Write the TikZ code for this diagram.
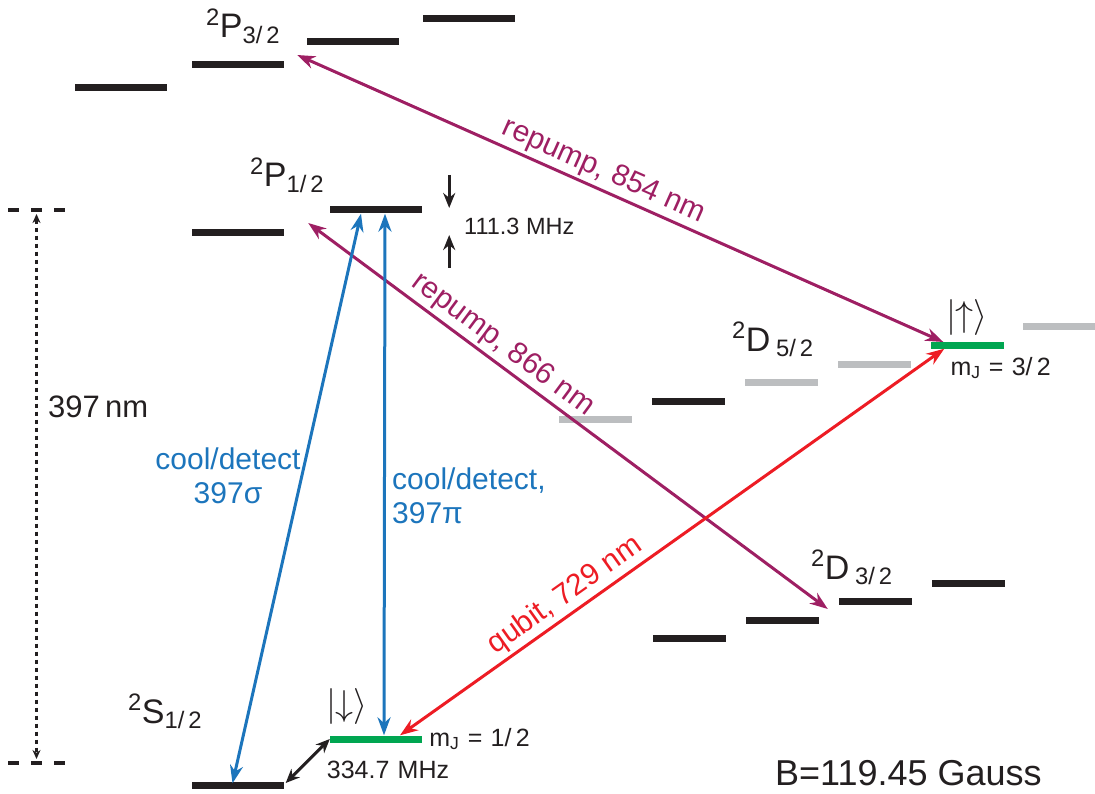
\RequirePackage{fix-cm}
\documentclass[tikz,border=0pt]{standalone}
\usepackage{fontspec}
\setmainfont{Liberation Sans}
\usetikzlibrary{arrows.meta, positioning, calc}
\definecolor{lvlBlack} {HTML}{231F20}
\definecolor{lvlGray}  {HTML}{BCBEC0}
\definecolor{lvlGreen} {HTML}{00A651}
\definecolor{beamPurple}{HTML}{9E1F63}
\definecolor{beamBlue} {HTML}{1C75BC}
\definecolor{beamRed}  {HTML}{ED1C24}
\tikzset{
  lvl/.style   = {rectangle, fill=lvlBlack, minimum width=92pt,
                  minimum height=7pt, inner sep=0pt},
  dlvl/.style  = {lvl, minimum width=73pt},
  glvl/.style  = {dlvl, fill=lvlGray},
  term/.style  = {inner sep=0pt, font=\fontsize{34}{38}\selectfont, text=lvlBlack},
  ket/.style   = {inner sep=0pt, font=\fontsize{36}{40}\selectfont, text=lvlBlack},
  note/.style  = {inner sep=0pt, font=\fontsize{25}{29}\selectfont, text=lvlBlack},
  beam/.style  = {{Stealth[length=18pt,width=13pt]}-{Stealth[length=18pt,width=13pt]},
                  line width=3pt},
  repump/.style= {beam, color=beamPurple},
  cool/.style  = {beam, color=beamBlue},
  qubit/.style = {beam, color=beamRed},
  beamlbl/.style={inner sep=3pt, font=\fontsize{30}{34}\selectfont},
  tick/.style  = {-{Stealth[length=15pt,width=12pt]}, line width=3pt, color=lvlBlack},
  dashline/.style={line width=3.5pt, dash pattern=on 11pt off 12pt, color=lvlBlack},
}
\begin{document}
\begin{tikzpicture}[x=1pt, y=-1pt]
  \useasboundingbox (0,0) rectangle (1095,794);

  % ---- P3/2 ----
  \node[lvl] (p3a) at (121,88)   {};
  \node[lvl] (p3b) at (237.5,65) {};
  \node[lvl] (p3c) at (353,42)   {};
  \node[lvl] (p3d) at (469,19)   {};
  \node[term, anchor=base west] (p3lbl) at (206,38)
       {\textsuperscript{2}P\textsubscript{3/\,2}};

  % ---- P1/2 ----
  \node[lvl] (p1a) at (237.5,233) {};
  \node[lvl] (p1b) at (376,210)   {};
  \node[term, anchor=base west] (p1lbl) at (250,187)
       {\textsuperscript{2}P\textsubscript{1/\,2}};

  % ---- S1/2 ----
  \node[lvl] (s1) at (237.5,785) {};
  \node[lvl, fill=lvlGreen] (s2) at (376,739) {};
  \node[term, anchor=base west] (slbl) at (128,723)
       {\textsuperscript{2}S\textsubscript{1/\,2}};
  \node[ket] (down) at (347,706) {$|{\downarrow}\rangle$};
  \node[note, right=7pt of s2] (mjs) {m\textsubscript{J}\,\,=\,\,1/\,2};
  \node[note] (zsplit) at (388,770) {334.7\,\,MHz};

  % ---- D5/2 ----
  \node[glvl]                 (d5a) at (595.5,419)  {};
  \node[dlvl]                 (d5b) at (688.5,401)  {};
  \node[glvl]                 (d5c) at (781.5,382)  {};
  \node[glvl]                 (d5d) at (874.5,364)  {};
  \node[dlvl, fill=lvlGreen]  (d5e) at (967,345)    {};
  \node[glvl]                 (d5f) at (1059,327)   {};
  \node[term, anchor=base west] (d5lbl) at (732,351)
       {\textsuperscript{2}D\,\textsubscript{5/\,2}};
  \node[ket, above=6pt of d5e] (up) {$|{\uparrow}\rangle$};
  \node[note, anchor=north west] (mjd) at ($(d5e.south west)+(20,8)$)
       {m\textsubscript{J}\,\,=\,\,3/\,2};

  % ---- D3/2 ----
  \node[dlvl] (d3a) at (689.5,638) {};
  \node[dlvl] (d3b) at (782.5,620) {};
  \node[dlvl] (d3c) at (875.5,601) {};
  \node[dlvl] (d3d) at (968.5,583) {};
  \node[term, anchor=base west] (d3lbl) at (811,579)
       {\textsuperscript{2}D\,\textsubscript{3/\,2}};

  % ---- 397 nm scale on the left ----
  \coordinate (ptop) at (36.5,210);
  \coordinate (sbot) at (36.5,763);
  \draw[dashline] ($(ptop)+(-28.5,0)$) -- ($(ptop)+(28.5,0)$);
  \draw[dashline] ($(sbot)+(-28.5,0)$) -- ($(sbot)+(28.5,0)$);
  \draw[{Stealth[length=9pt,width=8pt]}-{Stealth[length=9pt,width=8pt]},
        line width=2.5pt, dash pattern=on 4pt off 4pt, color=lvlBlack,
        shorten <=4pt, shorten >=4pt] (ptop) -- (sbot);
  \node[term, font=\fontsize{31}{35}\selectfont, anchor=base west] (uvlbl) at (48,417)
       {397\,nm};

  % ---- P1/2 splitting ----
  \draw[tick] ($(p1b.east)+(27,-35)$) -- ($(p1b.east)+(27,-2)$);
  \draw[tick] ($(p1b.east)+(27,58)$)  -- ($(p1b.east)+(27,25)$);
  \node[note, font=\fontsize{23.5}{27}\selectfont, anchor=west] (psplit) at (464,226)
       {111.3 MHz};

  % ---- S1/2 splitting ----
  \draw[{Stealth[length=14pt,width=12pt]}-{Stealth[length=14pt,width=12pt]},
        line width=3pt, color=lvlBlack] ($(s1.east)+(2,-2)$) -- (s2.west);

  % ---- laser beams ----
  \draw[repump] ($(p3b.east)+(13.5,-10)$) --
        node[beamlbl, sloped, above, pos=0.463]{repump, 854 nm}
        ($(d5e.west)+(13,-3)$);
  \draw[repump] ($(p1a.east)+(24.5,-10)$) --
        node[beamlbl, sloped, above, pos=0.354]{repump, 866 nm}
        ($(d3c.west)+(-11,8)$);
  \draw[cool] ($(s1.north)+(-5,2)$) -- ($(p1b.south)+(-15,0)$);
  \draw[cool] ($(s2.north)+(8,0)$)  -- ($(p1b.south)+(9,0)$);
  \draw[qubit] ($(s2.north)+(24,0)$) --
        node[beamlbl, sloped, above, pos=0.323]{qubit, 729 nm}
        ($(d5e.south west)+(14,0)$);

  \node[beamlbl, inner sep=0pt, align=center, text=beamBlue] (sigma) at (228,476)
       {cool/detect\\397σ};
  \node[beamlbl, inner sep=0pt, align=left, text=beamBlue, anchor=west] (pi) at (392,496)
       {cool/detect,\\397π};

  \node[term, font=\fontsize{36}{40}\selectfont, anchor=base west] (field) at (775,785)
       {B=119.45 Gauss};
\end{tikzpicture}
\end{document}
